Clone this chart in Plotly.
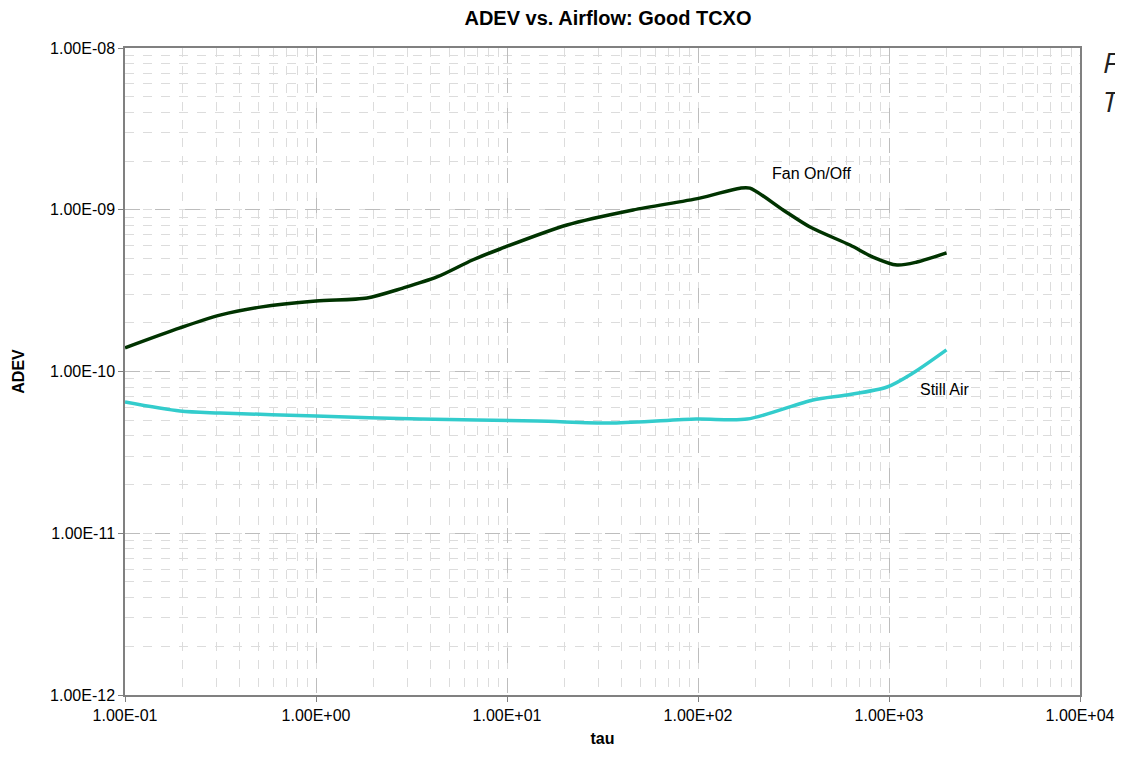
import plotly.graph_objects as go

tau_fan = [0.1, 0.194, 0.314, 0.51, 1.0, 1.85, 2.85, 4.3, 6.6, 9.2, 20.6, 45.7, 102, 166, 187,
           279, 386, 625, 824, 1102, 1402, 2000]
adev_fan = [1.40e-10, 1.86e-10, 2.23e-10, 2.50e-10, 2.73e-10, 2.85e-10, 3.28e-10, 3.84e-10,
            4.89e-10, 5.72e-10, 8.05e-10, 9.97e-10, 1.18e-9, 1.36e-9, 1.36e-9,
            9.97e-10, 7.82e-10, 6.05e-10, 5.10e-10, 4.55e-10, 4.75e-10, 5.41e-10]

tau_still = [0.1, 0.194, 0.314, 1.0, 3.5, 14.4, 35.9, 98, 181, 400, 603, 977, 1336, 2000]
adev_still = [6.48e-11, 5.70e-11, 5.54e-11, 5.31e-11, 5.08e-11, 4.94e-11, 4.80e-11, 5.08e-11,
              5.08e-11, 6.67e-11, 7.16e-11, 8.02e-11, 9.79e-11, 1.36e-10]

x_tickvals = [1e-1, 1e0, 1e1, 1e2, 1e3, 1e4]
x_ticktext = ["1.00E-01", "1.00E+00", "1.00E+01", "1.00E+02", "1.00E+03", "1.00E+04"]
y_tickvals = [1e-12, 1e-11, 1e-10, 1e-9, 1e-8]
y_ticktext = ["1.00E-12", "1.00E-11", "1.00E-10", "1.00E-09", "1.00E-08"]

FONT = "Liberation Sans, Arial, sans-serif"

fig = go.Figure()
fig.add_trace(go.Scatter(x=tau_fan, y=adev_fan, mode="lines", name="Fan On/Off",
                         line=dict(color="#003300", width=3.5, shape="spline", smoothing=0.8)))
fig.add_trace(go.Scatter(x=tau_still, y=adev_still, mode="lines", name="Still Air",
                         line=dict(color="#33CCCC", width=3.5, shape="spline", smoothing=0.8)))

axis_common = dict(
    showline=True, linecolor="#808080", linewidth=1.5, mirror=True,
    ticks="outside", ticklen=5, tickcolor="#808080",
    showgrid=True, gridcolor="#bdbdbd", griddash="longdash", gridwidth=1,
    zeroline=False,
    tickfont=dict(family=FONT, size=16, color="#000000"),
    minor=dict(showgrid=True, gridcolor="#dcdcdc", griddash="dash", gridwidth=1, dtick="D1", ticks=""),
)

fig.update_xaxes(type="log", range=[-1, 4], tickvals=x_tickvals, ticktext=x_ticktext,
                 title=dict(text="<b>tau</b>", font=dict(family=FONT, size=16, color="#000"), standoff=10),
                 **axis_common)
fig.update_yaxes(type="log", range=[-12, -8], tickvals=y_tickvals, ticktext=y_ticktext,
                 title=dict(text="<b>ADEV</b>", font=dict(family=FONT, size=16, color="#000"), standoff=22),
                 **axis_common)

fig.add_annotation(x=2.377, y=-8.773, xref="x", yref="y", text="Fan On/Off", showarrow=False,
                   xanchor="left", yanchor="middle", font=dict(family=FONT, size=16, color="#000"))
fig.add_annotation(x=3.152, y=-10.114, xref="x", yref="y", text="Still Air", showarrow=False,
                   xanchor="left", yanchor="middle", font=dict(family=FONT, size=16, color="#000"))
fig.add_annotation(x=1.0215, y=0.978, xref="paper", yref="paper", text="<i>F</i>",
                   showarrow=False, xanchor="left", yanchor="middle",
                   font=dict(family="Open Sans, sans-serif", size=28, color="#222"))
fig.add_annotation(x=1.0215, y=0.918, xref="paper", yref="paper", text="<i>T</i>",
                   showarrow=False, xanchor="left", yanchor="middle",
                   font=dict(family="Open Sans, sans-serif", size=28, color="#222"))

fig.update_layout(
    width=1123, height=762,
    margin=dict(l=117, r=51, t=40, b=75, autoexpand=False),
    paper_bgcolor="white", plot_bgcolor="white",
    showlegend=False,
    title=dict(text="<b>ADEV vs. Airflow: Good TCXO</b>", x=600 / 1123, xanchor="center",
               y=1 - 10 / 762, yanchor="middle", font=dict(family=FONT, size=20, color="#000")),
)

fig.write_html("out.html")
